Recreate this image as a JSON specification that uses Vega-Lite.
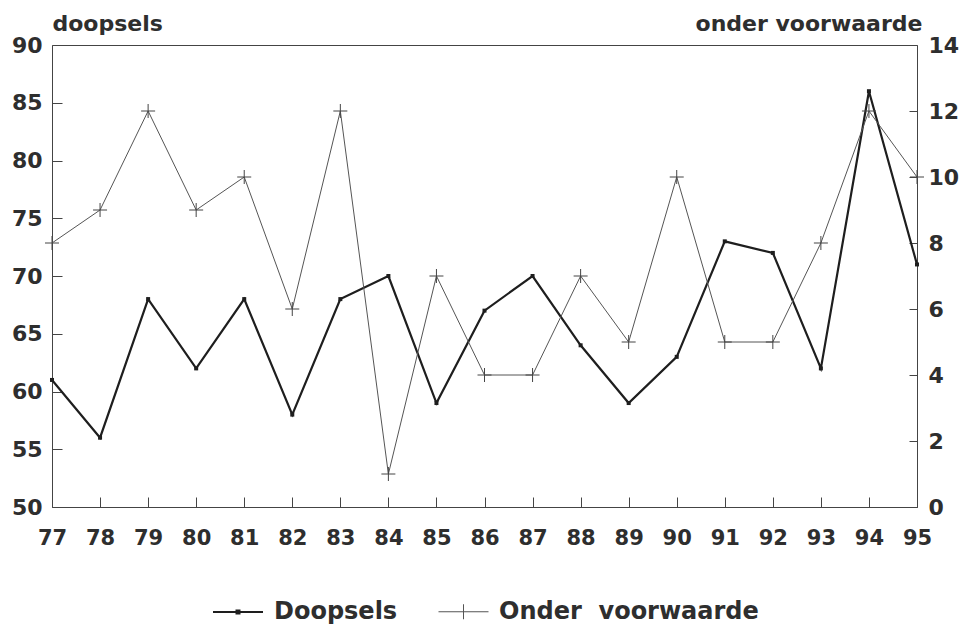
{
  "$schema": "https://vega.github.io/schema/vega-lite/v6.json",
  "width": 865,
  "height": 462,
  "autosize": {"type": "none"},
  "padding": {"left": 52, "top": 45, "right": 48, "bottom": 120},
  "background": "white",
  "config": {
    "view": {"stroke": "#444", "strokeWidth": 1},
    "font": "DejaVu Sans",
    "axis": {
      "labelFont": "DejaVu Sans",
      "labelFontWeight": "bold",
      "labelColor": "#2e2e2e",
      "titleFont": "DejaVu Sans",
      "titleFontWeight": "bold",
      "titleColor": "#2e2e2e",
      "domain": false,
      "tickColor": "#444",
      "tickWidth": 1,
      "grid": false
    },
    "legend": {
      "orient": "none",
      "direction": "horizontal",
      "legendX": 160,
      "legendY": 541,
      "symbolSize": 2500,
      "symbolOpacity": 1,
      "labelFont": "DejaVu Sans",
      "labelFontWeight": "bold",
      "labelFontSize": 24,
      "labelColor": "#2e2e2e",
      "labelOffset": 10,
      "labelLimit": 400,
      "columnPadding": 38
    }
  },
  "data": {
    "values": [
      {"jaar": 77, "doopsels": 61, "onder": 8},
      {"jaar": 78, "doopsels": 56, "onder": 9},
      {"jaar": 79, "doopsels": 68, "onder": 12},
      {"jaar": 80, "doopsels": 62, "onder": 9},
      {"jaar": 81, "doopsels": 68, "onder": 10},
      {"jaar": 82, "doopsels": 58, "onder": 6},
      {"jaar": 83, "doopsels": 68, "onder": 12},
      {"jaar": 84, "doopsels": 70, "onder": 1},
      {"jaar": 85, "doopsels": 59, "onder": 7},
      {"jaar": 86, "doopsels": 67, "onder": 4},
      {"jaar": 87, "doopsels": 70, "onder": 4},
      {"jaar": 88, "doopsels": 64, "onder": 7},
      {"jaar": 89, "doopsels": 59, "onder": 5},
      {"jaar": 90, "doopsels": 63, "onder": 10},
      {"jaar": 91, "doopsels": 73, "onder": 5},
      {"jaar": 92, "doopsels": 72, "onder": 5},
      {"jaar": 93, "doopsels": 62, "onder": 8},
      {"jaar": 94, "doopsels": 86, "onder": 12},
      {"jaar": 95, "doopsels": 71, "onder": 10}
    ]
  },
  "encoding": {
    "x": {
      "field": "jaar",
      "type": "quantitative",
      "scale": {"domain": [77, 95], "nice": false, "zero": false},
      "axis": {
        "title": null,
        "values": [77,78,79,80,81,82,83,84,85,86,87,88,89,90,91,92,93,94,95],
        "format": "d",
        "labelFontSize": 21,
        "offset": -10,
        "tickSize": 10,
        "labelPadding": 20,
        "labelFlush": false,
        "labelOverlap": false
      }
    }
  },
  "layer": [
    {
      "encoding": {
        "y": {
          "field": "doopsels",
          "type": "quantitative",
          "scale": {"domain": [50, 90], "nice": false, "zero": false},
          "axis": {
            "orient": "left",
            "values": [50, 55, 60, 65, 70, 75, 80, 85, 90],
            "title": "doopsels",
            "titleAngle": 0,
            "titleAlign": "left",
            "titleBaseline": "alphabetic",
            "titleX": -10,
            "titleY": -15,
            "titleFontSize": 22,
            "labelFontSize": 22,
            "offset": -10,
            "tickSize": 10,
            "labelPadding": 10,
            "labelFlush": false,
            "labelOverlap": false
          }
        }
      },
      "layer": [
        {
          "mark": {"type": "line", "color": "#1e1e1e", "strokeWidth": 2.2}
        },
        {
          "mark": {"type": "point", "filled": true, "shape": "square", "color": "#1e1e1e", "size": 16, "opacity": 1}
        },
        {
          "mark": {"type": "point", "filled": false, "opacity": 0},
          "encoding": {
            "shape": {
              "datum": "Doopsels",
              "type": "nominal",
              "scale": {"domain": ["Doopsels", "Onder voorwaarde"], "range": ["M-1,0H1M-0.06,-0.06H0.06V0.06H-0.06Z", "M-1,0H1M0,-0.3V0.3"]},
              "legend": {"title": null, "labelExpr": "datum.value === 'Onder voorwaarde' ? 'Onder\u00a0\u00a0voorwaarde' : datum.value"}
            },
            "color": {
              "datum": "Doopsels",
              "type": "nominal",
              "scale": {"domain": ["Doopsels", "Onder voorwaarde"], "range": ["#1e1e1e", "#555555"]},
              "legend": {"title": null, "labelExpr": "datum.value === 'Onder voorwaarde' ? 'Onder\u00a0\u00a0voorwaarde' : datum.value"}
            },
            "strokeWidth": {
              "datum": "Doopsels",
              "type": "nominal",
              "scale": {"domain": ["Doopsels", "Onder voorwaarde"], "range": [2, 1]},
              "legend": {"title": null, "labelExpr": "datum.value === 'Onder voorwaarde' ? 'Onder\u00a0\u00a0voorwaarde' : datum.value"}
            }
          }
        }
      ]
    },
    {
      "encoding": {
        "y": {
          "field": "onder",
          "type": "quantitative",
          "scale": {"domain": [0, 14], "nice": false, "zero": false},
          "axis": {
            "orient": "right",
            "values": [0, 2, 4, 6, 8, 10, 12, 14],
            "title": "onder voorwaarde",
            "titleAngle": 0,
            "titleAlign": "right",
            "titleBaseline": "alphabetic",
            "titleX": 13,
            "titleY": -15,
            "titleFontSize": 22,
            "labelFontSize": 22,
            "offset": -8,
            "tickSize": 8,
            "labelPadding": 11,
            "labelFlush": false,
            "labelOverlap": false
          }
        }
      },
      "layer": [
        {
          "mark": {"type": "line", "color": "#555", "strokeWidth": 1}
        },
        {
          "mark": {"type": "point", "filled": false, "shape": "M-1,0H1M0,-1V1", "color": "#444", "strokeWidth": 1, "size": 196, "opacity": 1}
        },
        {
          "mark": {"type": "point", "filled": false, "opacity": 0},
          "encoding": {
            "shape": {"datum": "Onder voorwaarde", "type": "nominal"},
            "color": {"datum": "Onder voorwaarde", "type": "nominal"},
            "strokeWidth": {"datum": "Onder voorwaarde", "type": "nominal"}
          }
        }
      ]
    }
  ],
  "resolve": {"scale": {"y": "independent"}}
}
